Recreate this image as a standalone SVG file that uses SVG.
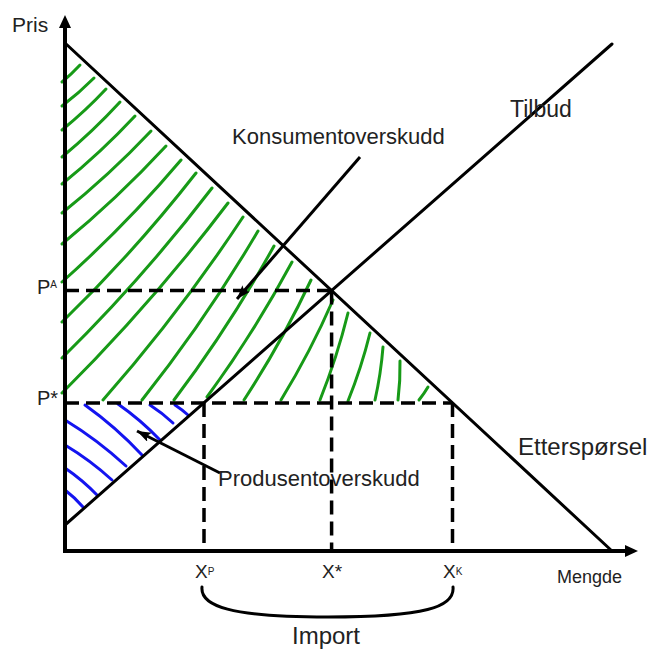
<svg xmlns="http://www.w3.org/2000/svg" width="656" height="649" viewBox="0 0 656 649">
<defs>
<style>
.t{font-family:"Liberation Sans",Arial,sans-serif;fill:#222}
.g path{fill:none;stroke:#179a17;stroke-width:3;stroke-linecap:round}
.b path{fill:none;stroke:#1414f0;stroke-width:3;stroke-linecap:round}
.axis{stroke:#000;stroke-width:4;fill:none}
.curve{stroke:#000;stroke-width:3;fill:none;stroke-linecap:round}
.dash{stroke:#000;stroke-width:3.5;fill:none;stroke-dasharray:14 7}
.ptr{stroke:#000;stroke-width:3;fill:none}
</style>
<marker id="ah" markerUnits="userSpaceOnUse" markerWidth="16" markerHeight="12" refX="14" refY="5" orient="auto">
<path d="M0,0 L14,5 L0,10 L3,5 z" fill="#000"/>
</marker>
<marker id="axh" markerUnits="userSpaceOnUse" markerWidth="14" markerHeight="12" refX="1" refY="6" orient="auto">
<path d="M0,0 L13,6 L0,12 z" fill="#000"/>
</marker>
</defs>
<rect width="656" height="649" fill="#fff"/>

<g id="consumer-hatch" class="g">
<path d="M62,82 Q71.6,74.1 80,65"/>
<path d="M62,106 Q79,93.1 94,78"/>
<path d="M62,130 Q85.4,111 106,89"/>
<path d="M62,157 Q92.9,131.5 120,102"/>
<path d="M62,184 Q100.9,152.6 135,116"/>
<path d="M62,213 Q109.4,175.1 151,131"/>
<path d="M62,244 Q117.4,198.6 166,146"/>
<path d="M62,282 Q125.8,225.2 181,160"/>
<path d="M62,322 Q134.2,252.2 196,173"/>
<path d="M62,358 Q143,278.3 212,188"/>
<path d="M62,393 Q151.7,303.8 228,203"/>
<path d="M103,400 Q179.4,313.4 243,217"/>
<path d="M142,400 Q205.9,319.6 258,231"/>
<path d="M174,400 Q229.4,326.5 274,246"/>
<path d="M207,397 Q254.2,332.5 292,262"/>
<path d="M244,400 Q281.7,342.3 311,280"/>
<path d="M281,400 Q310.5,351.8 333,300"/>
<path d="M320,400 Q337,357.5 348,313"/>
<path d="M348,401 Q361.4,367.8 370,333"/>
<path d="M375,400 Q380.9,373.8 383,347"/>
<path d="M398,400 Q400.4,380.5 400,361"/>
<path d="M419,400 Q424,393.8 428,387"/>
</g>

<g id="producer-hatch" class="b">
<path d="M85,405 Q116,427.1 142,455"/>
<path d="M118,404 Q140.8,419.9 160,440"/>
<path d="M150,405 Q162.4,413 173,423"/>
<path d="M175,405 Q182,409.6 188,415"/>
<path d="M65,420 Q97.8,440 126,466"/>
<path d="M65,445 Q90.3,460.2 112,480"/>
<path d="M65,468 Q82.4,479.9 97,495"/>
<path d="M65,490 Q74.9,497.6 83,507"/>
</g>

<g id="guides">
<path class="dash" d="M65,290.6 H331.6"/>
<path class="dash" d="M65,403 H452.5"/>
<path class="dash" d="M204,403 V551"/>
<path class="dash" d="M331.6,290.6 V551"/>
<path class="dash" d="M452.5,403 V551"/>
</g>

<g id="curves">
<path id="demand" class="curve" d="M65,43 L612,551"/>
<path id="supply" class="curve" d="M65,525 L612,44"/>
</g>

<g id="axes">
<path class="axis" d="M65,553 V27" marker-end="url(#axh)"/>
<path class="axis" d="M63,551 H626" marker-end="url(#axh)"/>
</g>

<g id="connectors">
<path class="ptr" d="M360,157 L237,299" marker-end="url(#ah)"/>
<path class="ptr" d="M220,473 L137,431" marker-end="url(#ah)"/>
<path id="import-brace" class="curve" d="M202,587 C200,606 230,617 328,617 C425,617 455,607 453,587"/>
</g>

<g id="labels">
<text class="t" x="12" y="32" font-size="21">Pris</text>
<text class="t" x="37" y="294" font-size="20">P<tspan font-size="10" dy="-6">A</tspan></text>
<text class="t" x="37" y="405" font-size="20">P*</text>
<text class="t" x="195" y="578" font-size="19">X<tspan font-size="10" dy="-3">P</tspan></text>
<text class="t" x="322" y="578" font-size="19">X*</text>
<text class="t" x="443" y="578" font-size="19">X<tspan font-size="10" dy="-3">K</tspan></text>
<text class="t" x="557" y="583" font-size="18">Mengde</text>
<text class="t" x="292" y="644" font-size="24">Import</text>
<text class="t" x="510" y="117" font-size="23">Tilbud</text>
<text class="t" x="232" y="144" font-size="22">Konsumentoverskudd</text>
<text class="t" x="218" y="486" font-size="22">Produsentoverskudd</text>
<text class="t" x="518" y="455" font-size="24">Etterspørsel</text>
</g>
</svg>
